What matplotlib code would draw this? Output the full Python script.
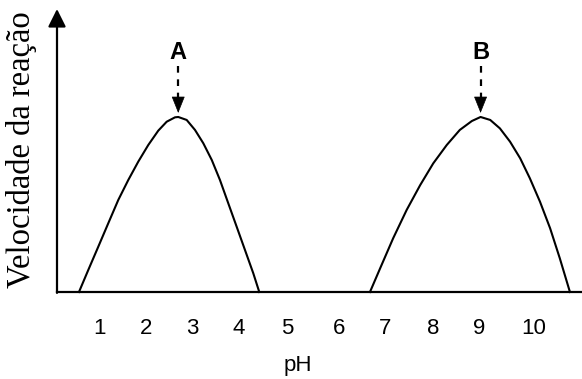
import matplotlib
matplotlib.use("Agg")
import matplotlib.pyplot as plt

# ---- data (x in pH units, y in relative reaction velocity) ----
ph_ticks = [0.98, 1.95, 2.92, 3.88, 4.87, 5.95, 6.90, 7.89, 8.85, 9.97]
ph_labels = ["1", "2", "3", "4", "5", "6", "7", "8", "9", "10"]

curve_a_x = [0.565, 0.758, 0.965, 1.172, 1.379, 1.586, 1.793, 2.000, 2.207, 2.381,
             2.553, 2.621, 2.795, 2.967, 3.139, 3.315, 3.484, 3.656, 3.830, 4.002,
             4.174, 4.298]
curve_a_y = [0.0, 0.126, 0.259, 0.393, 0.526, 0.640, 0.745, 0.840, 0.922, 0.973,
             0.998, 1.0, 0.983, 0.926, 0.850, 0.754, 0.640, 0.507, 0.373, 0.240,
             0.107, 0.0]

curve_b_x = [6.59, 6.80, 7.07, 7.35, 7.63, 7.90, 8.18, 8.45, 8.70, 8.88, 9.08,
             9.28, 9.49, 9.70, 9.90, 10.11, 10.32, 10.52, 10.73]
curve_b_y = [0.0, 0.135, 0.307, 0.469, 0.611, 0.735, 0.840, 0.926, 0.977, 1.0, 0.983,
             0.935, 0.859, 0.764, 0.650, 0.516, 0.364, 0.193, 0.0]

peak_labels = ["A", "B"]
peak_x = [2.62, 8.88]
peak_y = [1.0, 1.0]

W, H = 582, 379
fig = plt.figure(figsize=(W / 100, H / 100), dpi=100)
ax = fig.add_axes([57 / W, (H - 292) / H, (W - 57) / W, (292 - 9) / H])
x0, x1 = 0.11, 10.98
y0, y1 = 0.0, 1.617
ax.set_xlim(x0, x1)
ax.set_ylim(y0, y1)
for s in ["top", "right", "left"]:
    ax.spines[s].set_visible(False)
ax.spines["bottom"].set_linewidth(1.6)
ax.set_yticks([])
ax.set_xticks(ph_ticks)
ax.set_xticklabels(ph_labels, fontsize=16, family="Liberation Sans")
ax.tick_params(axis="x", length=0, pad=19)

# y-axis arrow
ax.annotate("", xy=(x0, y1), xytext=(x0, y0 - 0.005),
            arrowprops=dict(arrowstyle="-|>,head_length=0.4,head_width=0.2",
                            mutation_scale=27, lw=1.6, color="black",
                            shrinkA=0, shrinkB=0),
            annotation_clip=False)

# curves
ax.plot(curve_a_x, curve_a_y, color="black", lw=1.5, clip_on=False,
        solid_joinstyle="round")
ax.plot(curve_b_x, curve_b_y, color="black", lw=1.5, clip_on=False,
        solid_joinstyle="round")

# peak markers
for lab, px, py in zip(peak_labels, peak_x, peak_y):
    tip = py + 0.023
    base = tip + 0.086
    top = py + 0.29
    ax.plot([px, px], [top, base], color="black", lw=1.6,
            dashes=(3.0, 3.0), solid_capstyle="butt")
    ax.annotate("", xy=(px, tip), xytext=(px, base),
                arrowprops=dict(arrowstyle="-|>,head_length=0.4,head_width=0.16",
                                mutation_scale=27, lw=0.5, color="black",
                                shrinkA=0, shrinkB=0))
    ax.text(px, py + 0.366, lab, ha="center", va="center", fontsize=17,
            fontweight="bold", family="Liberation Sans")

fig.text(298 / W, 1 - 366 / H, "pH", ha="center", va="center", fontsize=16,
         family="Liberation Sans")
fig.text(22 / W, 1 - 150 / H, "Velocidade da reação", rotation=90,
         ha="center", va="center", fontsize=23.5, family="Liberation Serif")

fig.savefig("out.png", dpi=100)
